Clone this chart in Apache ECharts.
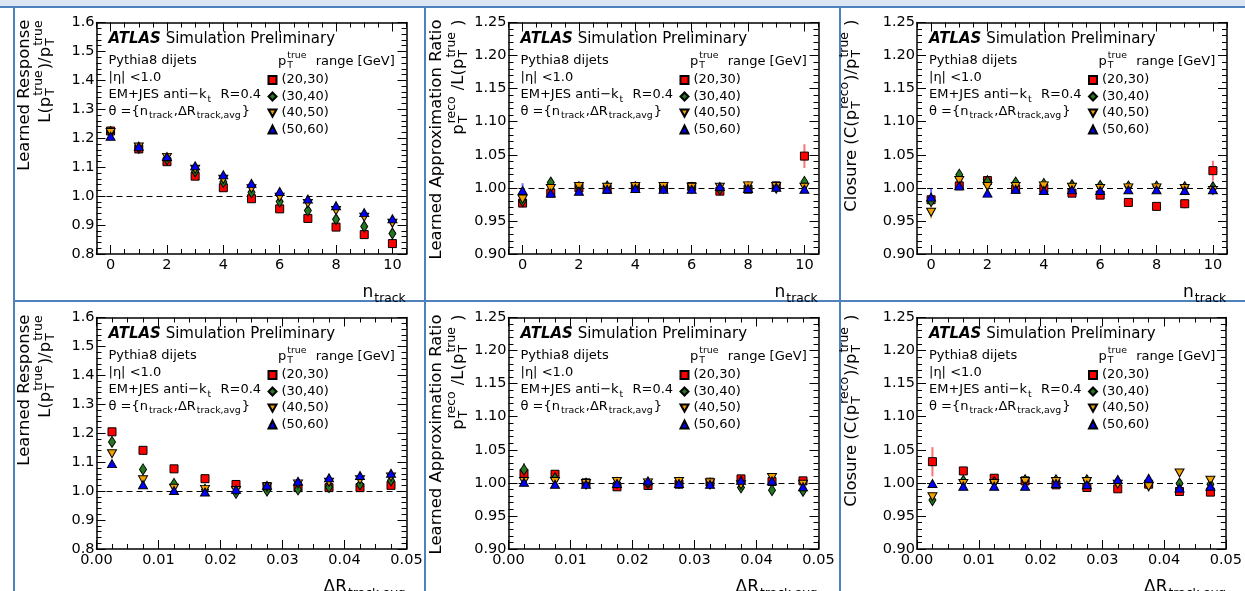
<!DOCTYPE html>
<html><head><meta charset="utf-8">
<script src="https://cdn.jsdelivr.net/npm/echarts@6/dist/echarts.min.js"></script>
<style>html,body{margin:0;padding:0;background:#fff}#c{width:1245px;height:591px}</style>
</head><body><div id="c"></div>
<script>
// ---------------- data ----------------
const nTrack = [0,1,2,3,4,5,6,7,8,9,10];
const dRbins = [0.0025,0.0075,0.0125,0.0175,0.0225,0.0275,0.0325,0.0375,0.0425,0.0475];
const ptBins = ['(20,30)','(30,40)','(40,50)','(50,60)'];
const nTrackTicks = [0,2,4,6,8,10];

const respN_2030 = [1.225,1.163,1.119,1.069,1.029,0.991,0.956,0.923,0.893,0.867,0.836];
const respN_3040 = [1.222,1.167,1.127,1.086,1.049,1.013,0.981,0.950,0.920,0.895,0.871];
const respN_4050 = [1.220,1.170,1.134,1.093,1.058,1.026,0.996,0.975,0.950,0.927,0.906];
const respN_5060 = [1.207,1.172,1.137,1.105,1.074,1.044,1.016,0.990,0.967,0.943,0.922];

const approxN_2030 = [0.977,0.992,1.000,0.998,1.001,0.999,1.002,0.995,0.998,1.003,1.048];
const approxN_3040 = [0.980,1.008,1.001,1.002,1.001,1.000,1.000,0.998,1.001,1.000,1.009];
const approxN_4050 = [0.983,0.999,1.002,1.001,1.002,1.002,1.001,1.001,1.003,1.002,1.001];
const approxN_5060 = [0.996,0.992,0.995,0.998,0.999,0.998,0.998,1.002,0.999,1.001,0.998];

const closN_2030 = [0.982,1.003,1.011,0.998,0.999,0.992,0.989,0.978,0.972,0.976,1.026];
const closN_3040 = [0.980,1.020,1.010,1.008,1.006,1.004,1.003,1.002,1.002,1.001,1.001];
const closN_4050 = [0.963,1.011,1.002,1.002,1.003,1.001,0.999,1.000,1.000,0.999,0.996];
const closN_5060 = [0.986,1.003,0.992,0.998,0.996,0.997,0.996,0.997,0.997,0.996,0.997];

const respR_2030 = [1.205,1.141,1.077,1.043,1.023,1.016,1.012,1.012,1.012,1.020];
const respR_3040 = [1.170,1.075,1.025,1.005,0.994,1.002,1.006,1.014,1.023,1.037];
const respR_4050 = [1.129,1.039,1.010,1.006,1.002,1.014,1.025,1.031,1.039,1.049];
const respR_5060 = [1.095,1.022,1.002,0.997,1.006,1.020,1.034,1.046,1.054,1.062];

const approxR_2030 = [1.0145,1.013,1.000,0.994,0.996,0.998,1.001,1.006,1.002,1.003];
const approxR_3040 = [1.020,1.007,0.999,1.000,0.999,1.000,0.999,0.993,0.989,0.988];
const approxR_4050 = [1.002,1.002,0.999,1.002,1.000,1.002,1.000,0.997,1.008,0.998];
const approxR_5060 = [1.001,0.998,0.998,0.999,1.003,0.999,0.998,1.004,1.003,0.994];

const closR_2030 = [1.032,1.018,1.007,1.003,0.997,0.993,0.991,0.998,0.987,0.986];
const closR_3040 = [0.974,1.003,1.001,1.004,1.004,1.004,1.002,0.999,0.999,0.998];
const closR_4050 = [0.979,0.999,0.999,1.002,1.002,1.002,0.998,0.994,1.015,1.004];
const closR_5060 = [0.999,0.995,0.995,0.995,0.999,0.997,1.005,1.007,0.992,0.995];

// visible uncertainties: [panel, series, point, error]
const errorBars = [
  [0,0,0,0.006],[0,0,10,0.006],
  [1,0,10,0.018],[1,0,9,0.005],[1,3,0,0.011],[1,2,0,0.006],[1,1,10,0.004],
  [2,0,10,0.015],[2,0,9,0.007],[2,2,0,0.010],[2,3,0,0.013],[2,0,0,0.006],
  [4,0,0,0.012],[4,1,0,0.010],[4,2,0,0.007],
  [5,0,0,0.022],[5,1,0,0.005]
];

// ---------------- styling ----------------
const FAM = 'DejaVu Sans';
const colors = ['#ff0000','#23781f','#f2a000','#0000ff'];
const symbols = ['rect','diamond','path://M0,0 L10,0 L5,9 Z','triangle'];
const symSizes = [8,[7,11],[9,8],[9,8]];
const ctx = document.createElement('canvas').getContext('2d');
function fontStr(size, w, i){ return (i||'normal')+' '+(w||'normal')+' '+size+'px "'+FAM+'"'; }
function tw(s,size,w,i){ ctx.font = fontStr(size,w,i); return ctx.measureText(s).width; }
function txt(s,x,y,size,w,i){
  return {type:'text', x:x, y:y, silent:true, style:{text:s, font:fontStr(size,w,i), fill:'#000',
    textAlign:'left', textVerticalAlign:'middle', align:'left', verticalAlign:'middle'}};
}
// ROOT-latex-like line: pieces are strings or {t, sup, sub, w, i}
function latex(pieces, F, x, y, align, rot, supScale){
  const fs = F*(supScale||0.72);
  const ch = []; let cx = 0;
  pieces.forEach(p=>{
    if (typeof p === 'string') p = {t:p};
    if (p.t){ ch.push(txt(p.t,cx,0,F,p.w,p.i)); cx += tw(p.t,F,p.w,p.i); }
    let a = 0;
    if (p.sup){ ch.push(txt(p.sup,cx+1,-0.45*F,fs)); a = Math.max(a, tw(p.sup,fs)+2); }
    if (p.sub){ ch.push(txt(p.sub,cx+1,0.32*F,fs)); a = Math.max(a, tw(p.sub,fs)+2); }
    cx += a;
  });
  const sh = align==='right' ? -cx : (align==='center' ? -cx/2 : 0);
  ch.forEach(c=>{ c.x += sh; });
  return {type:'group', x:x, y:y, rotation:rot||0, children:ch, silent:true};
}
const pT = (sup)=>({t:'p', sub:'T', sup:sup});

const respTitle = [['Learned Response'], ['L(', pT('true'), ')/', pT('true')]];
const approxTitle = [['Learned Approximation Ratio'], [pT('reco'), ' /L(', pT('true'), ' )']];
const closTitle = [['Closure (C(', pT('reco'), ')/', pT('true'), ' )']];

const panels = [
  {L:96.5, T:22.5, W:310, H:231.5, xs:nTrack, ser:[respN_2030,respN_3040,respN_4050,respN_5060], ymin:0.8, ymax:1.6, yint:0.1, ydec:1, title:respTitle, tx:[25,46]},
  {L:508.5, T:22.5, W:310, H:231.5, xs:nTrack, ser:[approxN_2030,approxN_3040,approxN_4050,approxN_5060], ymin:0.9, ymax:1.25, yint:0.05, ydec:2, title:approxTitle, tx:[437,459]},
  {L:917, T:22.5, W:310, H:231.5, xs:nTrack, ser:[closN_2030,closN_3040,closN_4050,closN_5060], ymin:0.9, ymax:1.25, yint:0.05, ydec:2, title:closTitle, tx:[852]},
  {L:96.5, T:317.5, W:310, H:231.5, xs:dRbins, ser:[respR_2030,respR_3040,respR_4050,respR_5060], ymin:0.8, ymax:1.6, yint:0.1, ydec:1, title:respTitle, tx:[25,46]},
  {L:508.5, T:317.5, W:310, H:231.5, xs:dRbins, ser:[approxR_2030,approxR_3040,approxR_4050,approxR_5060], ymin:0.9, ymax:1.25, yint:0.05, ydec:2, title:approxTitle, tx:[437,459]},
  {L:917, T:317.5, W:310, H:231.5, xs:dRbins, ser:[closR_2030,closR_3040,closR_4050,closR_5060], ymin:0.9, ymax:1.25, yint:0.05, ydec:2, title:closTitle, tx:[852]}
];

const nMinor = [];
for (let v=-0.5; v<=10.5001; v+=0.5){ if (Math.abs(v/2-Math.round(v/2))>1e-6) nMinor.push(v); }

const lineS = {color:'#000', width:1.5};
const tickS = {color:'#000', width:1};
const labS = {color:'#000', fontSize:14.5, fontFamily:FAM};

const grid=[], xAxis=[], yAxis=[], series=[], legend=[], graphic=[];

// frame / slide decoration
graphic.push({type:'rect', shape:{x:0,y:0,width:1245,height:6}, style:{fill:'#dce6f2'}, silent:true});
[[0,7,1245,7],[13,301,1245,301],[14,7,14,591],[425,7,425,591],[840,7,840,591]].forEach(l=>{
  graphic.push({type:'line', shape:{x1:l[0],y1:l[1],x2:l[2],y2:l[3]}, style:{stroke:'#4f81bd', lineWidth:2}, silent:true});
});

panels.forEach((p,pi)=>{
  const isN = p.xs === nTrack;
  const gi = grid.length;
  grid.push({left:p.L, top:p.T, width:p.W, height:p.H, containLabel:false});
  const xi = xAxis.length;
  if (isN){
    const base = {gridIndex:gi, type:'value', min:-0.5, max:10.5, splitLine:{show:false}, axisLine:{onZero:false, lineStyle:lineS}};
    xAxis.push(Object.assign({}, base, {position:'bottom',
      axisTick:{show:true, inside:true, length:9, customValues:nTrackTicks, lineStyle:tickS},
      axisLabel:{customValues:nTrackTicks, margin:4, ...labS}}));
    xAxis.push(Object.assign({}, base, {position:'top',
      axisTick:{show:true, inside:true, length:9, customValues:nTrackTicks, lineStyle:tickS}, axisLabel:{show:false}}));
  } else {
    const base = {gridIndex:gi, type:'value', min:0, max:0.05, interval:0.01, splitLine:{show:false}, axisLine:{onZero:false, lineStyle:lineS},
      axisTick:{show:true, inside:true, length:9, lineStyle:tickS}, minorTick:{show:true, splitNumber:4, length:5, lineStyle:tickS}};
    xAxis.push(Object.assign({}, base, {position:'bottom', axisLabel:{margin:4, formatter:v=>v.toFixed(2), ...labS}}));
    xAxis.push(Object.assign({}, base, {position:'top', axisLabel:{show:false}}));
  }
  const yi = yAxis.length;
  const ybase = {gridIndex:gi, type:'value', min:p.ymin, max:p.ymax, interval:p.yint, splitLine:{show:false}, axisLine:{onZero:false, lineStyle:lineS},
    axisTick:{show:true, inside:true, length:9, lineStyle:tickS}, minorTick:{show:true, splitNumber:5, length:5, lineStyle:tickS}};
  yAxis.push(Object.assign({}, ybase, {position:'left', axisLabel:{margin:2, formatter:v=>v.toFixed(p.ydec), ...labS}}));
  yAxis.push(Object.assign({}, ybase, {position:'right', axisLabel:{show:false}}));

  if (isN){ // overlay grid carrying the minor ticks of the n_track axis
    const og = grid.length;
    grid.push({left:p.L, top:p.T, width:p.W, height:p.H, containLabel:false});
    const mb = {gridIndex:og, type:'value', min:-0.5, max:10.5, splitLine:{show:false}, axisLine:{show:false, onZero:false}, axisLabel:{show:false},
      axisTick:{show:true, inside:true, length:5, customValues:nMinor, lineStyle:tickS}};
    xAxis.push(Object.assign({}, mb, {position:'bottom'}));
    xAxis.push(Object.assign({}, mb, {position:'top'}));
    yAxis.push({gridIndex:og, type:'value', show:false, min:0, max:1});
  }

  // error bars
  const errData = errorBars.filter(e=>e[0]===pi).map(e=>{
    const v = p.ser[e[1]][e[2]]; return [p.xs[e[2]], v-e[3], v+e[3], e[1]];
  });
  series.push({type:'custom', xAxisIndex:xi, yAxisIndex:yi, z:5, silent:true, data:errData,
    renderItem:(params, api)=>{
      const a = api.coord([api.value(0), api.value(1)]);
      const b = api.coord([api.value(0), api.value(2)]);
      return {type:'line', shape:{x1:a[0],y1:a[1],x2:b[0],y2:b[1]},
        style:{stroke:colors[api.value(3)], lineWidth:2, opacity:0.55}};
    }});

  p.ser.forEach((vals,si)=>{
    const s = {type:'scatter', name:ptBins[si], xAxisIndex:xi, yAxisIndex:yi, z:10+si,
      symbol:symbols[si], symbolSize:symSizes[si],
      itemStyle:{color:colors[si], borderColor:'#000', borderWidth:1, opacity:1},
      data: p.xs.map((x,j)=>[x, vals[j]])};
    if (si===0){
      s.markLine = {silent:true, z:2, symbol:['none','none'], label:{show:false},
        lineStyle:{color:'#000', type:[6,4], width:1}, data:[{yAxis:1}]};
    }
    series.push(s);
  });

  legend.push({data:ptBins, orient:'vertical', left:p.L+171, top:p.T+50.5, padding:0,
    itemWidth:8, itemHeight:8, itemGap:2.5, selectedMode:false,
    textStyle:{fontSize:13, fontFamily:FAM, color:'#000', lineHeight:14}});

  // annotations
  const ax = p.L+12, ay = p.T;
  graphic.push(latex([{t:'ATLAS', w:'bold', i:'italic'}, ' Simulation Preliminary'], 15, ax, ay+17));
  graphic.push(latex(['Pythia8 dijets'], 13, ax, ay+38));
  graphic.push(latex(['|η| <1.0'], 13, ax, ay+55.5));
  graphic.push(latex(['EM+JES anti\u2212k', {sub:'t'}, '  R=0.4'], 13, ax, ay+72.5));
  graphic.push(latex(['θ ={n', {sub:'track'}, ',ΔR', {sub:'track,avg'}, '}'], 13, ax, ay+89));
  graphic.push(latex([pT('true'), '  range [GeV]'], 13, p.L+181.5, ay+39));

  // axis titles
  p.title.forEach((line,li)=>{
    graphic.push(latex(line, 16.5, p.tx[li], p.T-3, 'right', Math.PI/2, 0.75));
  });
  const xt = isN ? [{t:'n', sub:'track'}] : [{t:'ΔR', sub:'track,avg'}];
  graphic.push(latex(xt, 17, p.L+p.W, p.T+p.H+39, 'right'));
});

const chart = echarts.init(document.getElementById('c'), null, {renderer:'canvas'});
chart.setOption({
  animation:false,
  backgroundColor:'#fff',
  textStyle:{fontFamily:FAM},
  grid, xAxis, yAxis, series, legend, graphic
});
</script></body></html>
